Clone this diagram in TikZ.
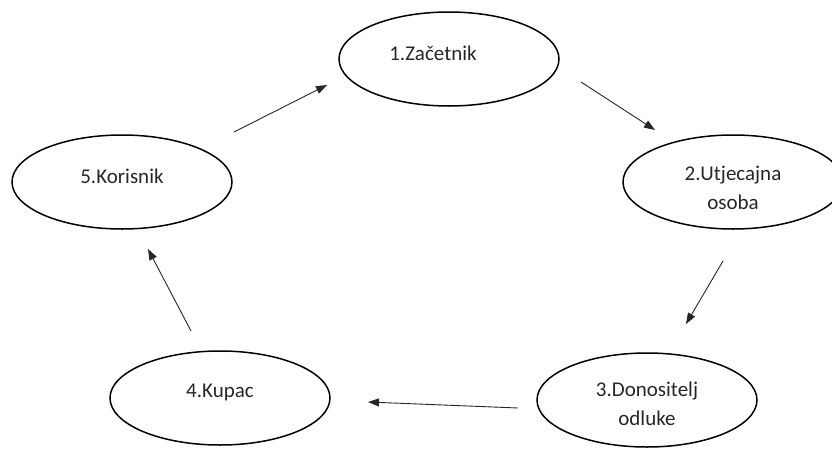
\documentclass[tikz,border=0pt]{standalone}
\usepackage{fontspec}
\setmainfont{Carlito}
\usetikzlibrary{shapes.geometric,arrows.meta}
\tikzset{
  ell/.style={ellipse, draw=black, line width=1.5pt, minimum width=220pt, minimum height=94pt, inner sep=0pt},
  lbl/.style={font=\fontsize{21}{29}\selectfont, text=black!85, align=center},
  arr/.style={draw=black!85, line width=0.9pt, -{Triangle[length=11pt,width=8pt]}}
}
\begin{document}
\begin{tikzpicture}[x=1pt,y=-1pt]
\useasboundingbox (0,0) rectangle (832,450);
\begin{scope}
\clip (0,0) rectangle (832,450);
\node[ell, label={[lbl, yshift=6pt, xshift=-16pt]center:1.Začetnik}] (n1) at (449,59) {};
\node[ell, label={[lbl, yshift=-6pt]center:2.Utjecajna\\osoba}] (n2) at (733,182) {};
\node[ell, label={[lbl, yshift=-4pt]center:3.Donositelj\\odluke}] (n3) at (647,400) {};
\node[ell, label={[lbl, yshift=6pt]center:4.Kupac}] (n4) at (220,398) {};
\node[ell, label={[lbl, yshift=6pt]center:5.Korisnik}] (n5) at (122,182) {};
\end{scope}
\coordinate (a1s) at (581,82);  \coordinate (a1e) at (655,130);
\coordinate (a2s) at (723,261); \coordinate (a2e) at (686,324);
\coordinate (a3s) at (518,408); \coordinate (a3e) at (368,402);
\coordinate (a4s) at (191,331); \coordinate (a4e) at (148,249);
\coordinate (a5s) at (234,132); \coordinate (a5e) at (327,85);
\draw[arr] (a1s) -- (a1e);
\draw[arr] (a2s) -- (a2e);
\draw[arr] (a3s) -- (a3e);
\draw[arr] (a4s) -- (a4e);
\draw[arr] (a5s) -- (a5e);
\end{tikzpicture}
\end{document}
